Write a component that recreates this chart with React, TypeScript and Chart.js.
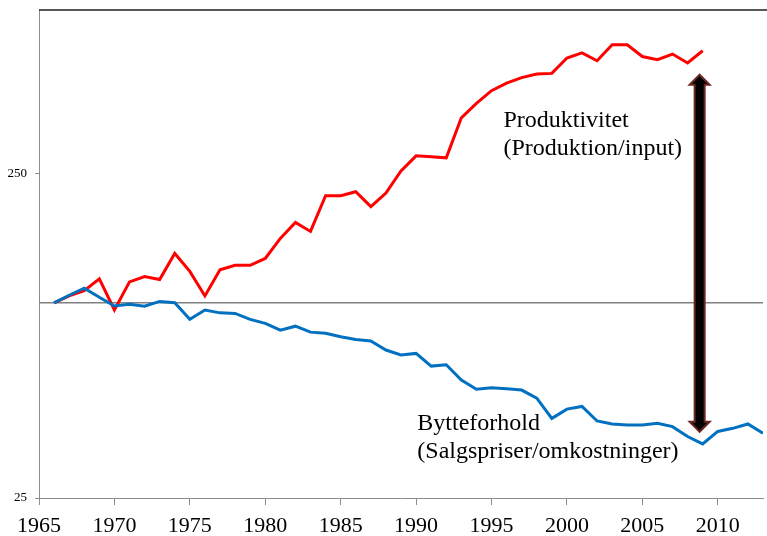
import React, { useEffect, useRef } from 'react';
import Chart from 'chart.js/auto';

const FONT = '"Liberation Serif", "Times New Roman", serif';

const blueYears = [
  1966, 1967, 1968, 1969, 1970, 1971, 1972, 1973, 1974, 1975, 1976, 1977,
  1978, 1979, 1980, 1981, 1982, 1983, 1984, 1985, 1986, 1987, 1988, 1989,
  1990, 1991, 1992, 1993, 1994, 1995, 1996, 1997, 1998, 1999, 2000, 2001,
  2002, 2003, 2004, 2005, 2006, 2007, 2008, 2009, 2010, 2011, 2012, 2013,
];
const bytteforhold = [
  100, 105.5, 111, 104, 97.8, 99, 97.6, 101, 100, 89, 95, 93.1,
  92.7, 88.9, 86.4, 82.3, 84.7, 81.2, 80.5, 78.6, 77.1, 76.2, 71.5, 69.0,
  69.8, 63.8, 64.4, 57.8, 54.1, 54.7, 54.3, 53.8, 50.8, 44.0, 47.0, 47.9,
  43.2, 42.3, 42.0, 42.0, 42.5, 41.5, 38.7, 36.7, 40.1, 41.0, 42.3, 39.6,
];
const redYears = [
  1966, 1967, 1968, 1969, 1970, 1971, 1972, 1973, 1974, 1975, 1976, 1977,
  1978, 1979, 1980, 1981, 1982, 1983, 1984, 1985, 1986, 1987, 1988, 1989,
  1990, 1991, 1992, 1993, 1994, 1995, 1996, 1997, 1998, 1999, 2000, 2001,
  2002, 2003, 2004, 2005, 2006, 2007, 2008, 2009,
];
const produktivitet = [
  100, 105, 109, 118.5, 95, 116, 120.5, 118, 142, 125, 105, 126.5,
  130.5, 130.5, 137, 158, 177, 166, 214, 214, 220, 198, 218, 255,
  284, 282, 280, 372, 412, 451, 476, 495, 508, 510, 569, 590,
  558, 625, 625, 575, 562, 585, 549, 599,
];
const baseYears = [1965, 2013];
const baseValues = [100, 100];

const xTickValues = [1965, 1970, 1975, 1980, 1985, 1990, 1995, 2000, 2005, 2010];
const yTickValues = [25, 250];

const arrowYear = 2008.8;
const arrowTop = 505;
const arrowBottom = 40;

const labelProd = ['Produktivitet', '(Produktion/input)'];
const labelProdPos = { x: 1995.79, y: 347.6 };
const labelByt = ['Bytteforhold', '(Salgspriser/omkostninger)'];
const labelBytPos = { x: 1990.08, y: 40.55 };

export default function App() {
  const ref = useRef<HTMLCanvasElement>(null);

  useEffect(() => {
    document.body.style.margin = '0';
    const canvas = ref.current!;

    const overlay = {
      id: 'overlay',
      afterDraw(chart: any) {
        const { ctx, chartArea } = chart;
        const xs = chart.scales.x;
        const ys = chart.scales.y;
        ctx.save();
        // top frame line
        ctx.strokeStyle = '#1e1e1e';
        ctx.lineWidth = 1.3;
        ctx.beginPath();
        ctx.moveTo(chartArea.left, chartArea.top);
        ctx.lineTo(chart.width, chartArea.top);
        ctx.stroke();

        // double arrow
        const ax = xs.getPixelForValue(arrowYear);
        const t = ys.getPixelForValue(arrowTop);
        const b = ys.getPixelForValue(arrowBottom);
        const sw = 5;
        const hw = 10;
        const hl = 10;
        ctx.beginPath();
        ctx.moveTo(ax, t);
        ctx.lineTo(ax + hw, t + hl);
        ctx.lineTo(ax + sw, t + hl);
        ctx.lineTo(ax + sw, b - hl);
        ctx.lineTo(ax + hw, b - hl);
        ctx.lineTo(ax, b);
        ctx.lineTo(ax - hw, b - hl);
        ctx.lineTo(ax - sw, b - hl);
        ctx.lineTo(ax - sw, t + hl);
        ctx.lineTo(ax - hw, t + hl);
        ctx.closePath();
        ctx.fillStyle = '#000000';
        ctx.fill();
        ctx.strokeStyle = '#6a2620';
        ctx.lineWidth = 2;
        ctx.lineJoin = 'miter';
        ctx.stroke();

        // texts
        ctx.fillStyle = '#000';
        ctx.font = `24px ${FONT}`;
        ctx.textAlign = 'left';
        ctx.textBaseline = 'alphabetic';
        const drawLabel = (lines: string[], pos: { x: number; y: number }) => {
          const px = xs.getPixelForValue(pos.x);
          const py = ys.getPixelForValue(pos.y);
          lines.forEach((l, i) => ctx.fillText(l, px, py + i * 28));
        };
        drawLabel(labelProd, labelProdPos);
        drawLabel(labelByt, labelBytPos);
        ctx.restore();
      },
    };

    const chart = new Chart(canvas, {
      type: 'line',
      data: {
        datasets: [
          {
            data: blueYears.map((yr, i) => ({ x: yr, y: bytteforhold[i] })),
            borderColor: '#0070c0',
            borderWidth: 3,
            pointRadius: 0,
            tension: 0,
          },
          {
            data: redYears.map((yr, i) => ({ x: yr, y: produktivitet[i] })),
            borderColor: '#ff0000',
            borderWidth: 3,
            pointRadius: 0,
            tension: 0,
          },
          {
            data: baseYears.map((yr, i) => ({ x: yr, y: baseValues[i] })),
            borderColor: '#808080',
            borderWidth: 1.5,
            pointRadius: 0,
          },
        ],
      },
      options: {
        responsive: false,
        animation: false,
        layout: { padding: { top: 10, right: 4, left: 0, bottom: 0 } },
        plugins: { legend: { display: false }, tooltip: { enabled: false } },
        scales: {
          x: {
            type: 'linear',
            min: 1965,
            max: 2013,
            afterBuildTicks: (s: any) => {
              s.ticks = xTickValues.map((v) => ({ value: v }));
            },
            afterFit: (s: any) => {
              s.height = 38;
              s.paddingRight = 0;
            },
            ticks: {
              font: { family: FONT, size: 22 },
              color: '#000',
              padding: 8,
              maxRotation: 0,
              autoSkip: false,
              callback: (v: any) => String(v),
            },
            grid: {
              display: true,
              drawOnChartArea: false,
              drawTicks: true,
              tickLength: 7,
              color: '#8c8c8c',
            },
            border: { display: true, color: '#8c8c8c', width: 1 },
          },
          y: {
            type: 'logarithmic',
            min: 25,
            max: 800,
            afterBuildTicks: (s: any) => {
              s.ticks = yTickValues.map((v) => ({ value: v }));
            },
            afterFit: (s: any) => {
              s.width = 39;
              s.paddingTop = 0;
              s.paddingBottom = 0;
            },
            ticks: {
              font: { family: FONT, size: 13 },
              color: '#000',
              padding: 8,
              autoSkip: false,
              callback: (v: any) => String(v),
            },
            grid: {
              display: true,
              drawOnChartArea: false,
              drawTicks: true,
              tickLength: 4,
              color: '#8c8c8c',
            },
            border: { display: true, color: '#8c8c8c', width: 1 },
          },
        },
      },
      plugins: [overlay],
    } as any);

    return () => chart.destroy();
  }, []);

  return (
    <div style={{ position: 'absolute', left: 0, top: 0, width: 767, height: 536 }}>
      <canvas ref={ref} width={767} height={536} style={{ display: 'block', width: 767, height: 536 }} />
    </div>
  );
}
